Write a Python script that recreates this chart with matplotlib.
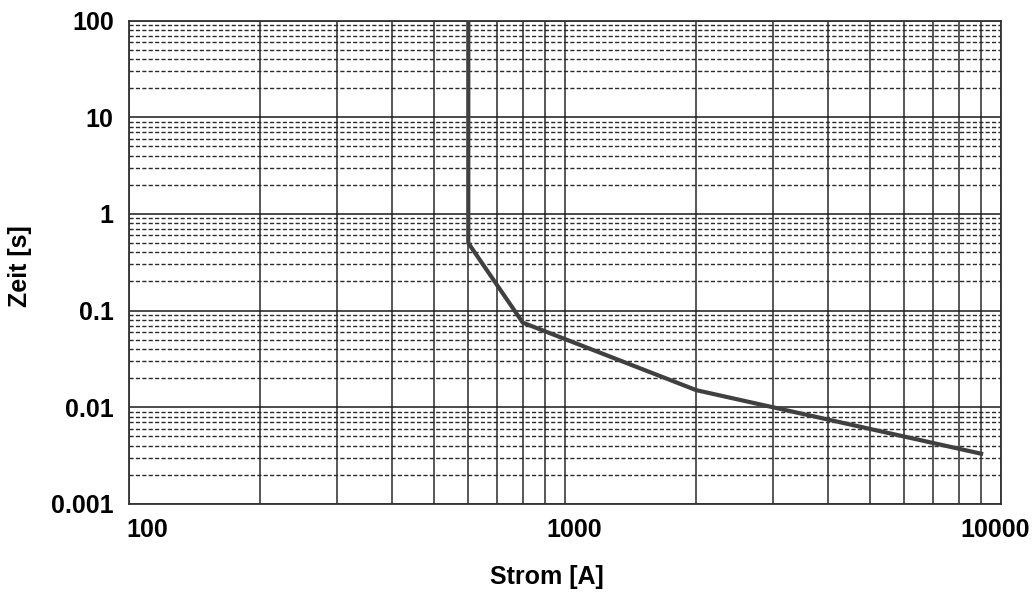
import numpy as np
import matplotlib.pyplot as plt
from matplotlib.ticker import LogLocator, NullFormatter, FixedLocator, FixedFormatter
from matplotlib.transforms import ScaledTranslation

# trip curve (current in A, time in s)
strom = [600, 600, 800, 2000, 9000]
zeit = [100, 0.5, 0.075, 0.015, 0.0033]

x_ticks = [100, 1000, 10000]
x_ticklabels = ["100", "1000", "10000"]
y_ticks = [0.001, 0.01, 0.1, 1, 10, 100]
y_ticklabels = ["0.001", "0.01", "0.1", "1", "10", "100"]

plt.rcParams['font.family'] = ['Liberation Sans', 'DejaVu Sans']
plt.rcParams['font.weight'] = 'bold'

fig = plt.figure(figsize=(10.32, 5.92), dpi=100)
ax = fig.add_axes([0.125, 0.149, 0.845, 0.816])

ax.plot(strom, zeit, color='#404040', lw=3, solid_joinstyle='miter', zorder=5)

ax.set_xscale('log')
ax.set_yscale('log')
ax.set_xlim(100, 10000)
ax.set_ylim(0.001, 100)

ax.xaxis.set_major_locator(FixedLocator(x_ticks))
ax.xaxis.set_major_formatter(FixedFormatter(x_ticklabels))
ax.yaxis.set_major_locator(FixedLocator(y_ticks))
ax.yaxis.set_major_formatter(FixedFormatter(y_ticklabels))
ax.xaxis.set_minor_locator(LogLocator(base=10, subs=np.arange(2, 10)))
ax.yaxis.set_minor_locator(LogLocator(base=10, subs=np.arange(2, 10)))
ax.xaxis.set_minor_formatter(NullFormatter())
ax.yaxis.set_minor_formatter(NullFormatter())

ax.tick_params(which='both', length=0)
ax.tick_params(axis='x', labelsize=18, pad=10)
ax.tick_params(axis='y', labelsize=18, pad=11)

# grid: solid verticals, solid major / dashed minor horizontals
ax.grid(axis='x', which='both', color='#2a2a2a', lw=1.1, ls='-')
ax.grid(axis='y', which='major', color='#1a1a1a', lw=1.1, ls='-')
ax.grid(axis='y', which='minor', color='#2a2a2a', lw=1.0, ls=(0, (3.0, 1.6)))
ax.set_axisbelow(True)

for s in ax.spines.values():
    s.set_color('#333333')
    s.set_linewidth(1.3)

# x tick labels sit a bit off their ticks in the original
shifts = [13, 6.5, -4.3]
for lab, dx in zip(ax.get_xticklabels(), shifts):
    lab.set_transform(lab.get_transform() + ScaledTranslation(dx / 72, 0, fig.dpi_scale_trans))

fig.text(0.530, 0.025, 'Strom [A]', ha='center', va='center', fontsize=18, fontweight='bold')
fig.text(0.0194, 0.551, 'Zeit [s]', ha='center', va='center', rotation=90, fontsize=18, fontweight='bold')

fig.savefig('out.png', dpi=100)
